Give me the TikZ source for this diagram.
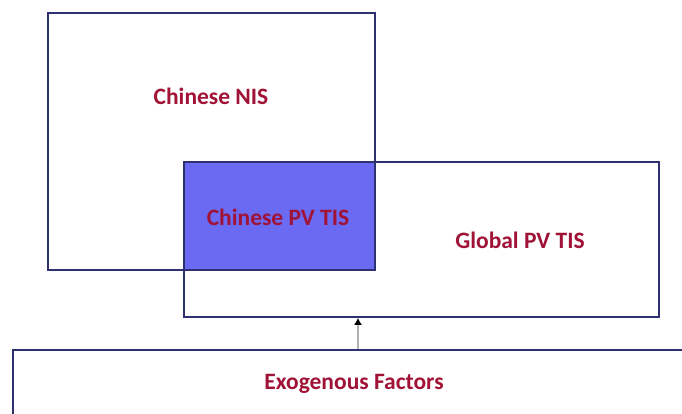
\documentclass[tikz,border=0pt]{standalone}
\usepackage{fontspec}
\setmainfont{Carlito}
\usepackage{xcolor}
\definecolor{boxline}{HTML}{2E3170}
\definecolor{overlap}{HTML}{6A6AF2}
\definecolor{labelred}{HTML}{A01236}
\usetikzlibrary{arrows.meta, calc, positioning}

\begin{document}
\begin{tikzpicture}[x=1pt, y=-1pt]

  \tikzstyle{sysbox} = [%
  draw=boxline,
  line width=1.8pt,
  rectangle,
  inner sep=0pt,
  ];
  \tikzstyle{syslabel} = [%
  font=\fontsize{23.5}{28}\selectfont\bfseries,
  text=labelred,
  ];

  \useasboundingbox (0,0) rectangle (682,414);
  \clip (0,0) rectangle (682,414);

  % overlap of the two systems
  \fill[overlap] (184,162) rectangle (375,270);

  \node[sysbox, minimum width=327pt, minimum height=257pt] (nis) at (211.5,141.5) {};
  \node[sysbox, minimum width=475pt, minimum height=155pt] (glob) at (421.5,239.5) {};
  \node[sysbox, minimum width=690pt, minimum height=90pt] (exo) at (358,395) {};

  \node[syslabel] (nislabel) at (211,96) {Chinese NIS};
  \node[syslabel] (cnlabel) at (278,217) {Chinese PV TIS};
  \node[syslabel] (globlabel) at (520,240) {Global PV TIS};
  \node[syslabel] (exolabel) at (354,384) {Exogenous Factors};

  \draw[-{Latex[black, length=7pt, width=8pt]}, gray!60, line width=1.2pt]
    (exo.north) -- (exo.north |- glob.south);

\end{tikzpicture}
\end{document}
